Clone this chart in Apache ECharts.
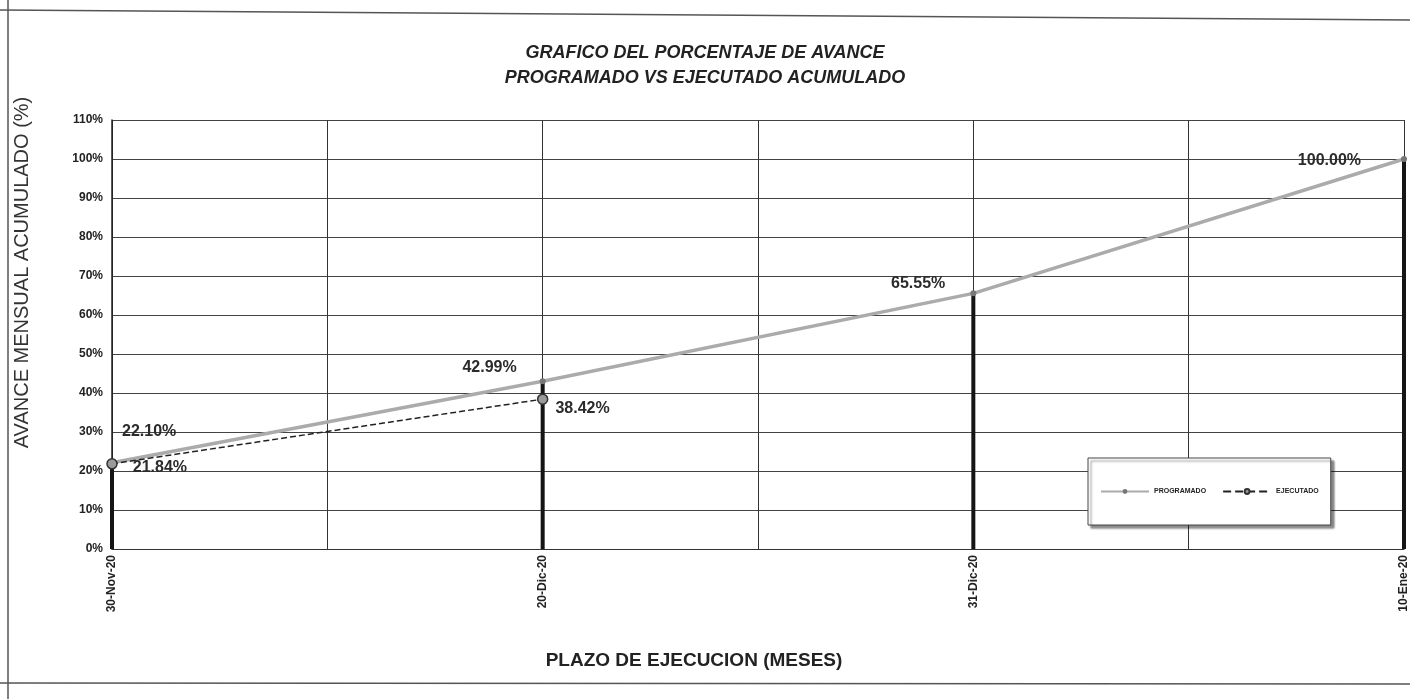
<!DOCTYPE html>
<html>
<head>
<meta charset="utf-8">
<script src="https://cdn.jsdelivr.net/npm/echarts@6/dist/echarts.min.js"></script>
<style>
  html, body { margin: 0; padding: 0; background: #fff; }
  #chart { width: 1410px; height: 699px; }
</style>
</head>
<body>
<div id="chart"></div>
<script>
var fechas = ['30-Nov-20', '20-Dic-20', '31-Dic-20', '10-Ene-20'];
var programado = [22.10, 42.99, 65.55, 100.00];
var ejecutado = [21.84, 38.42];
var yTicks = [0, 10, 20, 30, 40, 50, 60, 70, 80, 90, 100, 110];

var chart = echarts.init(document.getElementById('chart'));

// posiciones de etiquetas como en la hoja escaneada
var progLabels = [
    { position: 'right', offset: [2, -31] },
    { position: 'left', offset: [-18, -14] },
    { position: 'left', offset: [-20, -10] },
    { position: 'left', distance: 40, offset: [0, 2] }
];
var ejecLabels = [
    { position: 'right', offset: [10, 4] },
    { position: 'right', offset: [2, 9] }
];

function pares(vals, labels) {
    return vals.map(function (v, i) {
        return { value: [i, v], label: labels ? labels[i] : undefined };
    });
}

var lblStyle = {
    show: true,
    fontFamily: 'Liberation Sans',
    fontWeight: 'bold',
    fontSize: 16,
    color: '#2b2b2b',
    formatter: function (p) { return p.value[1].toFixed(2) + '%'; }
};

chart.setOption({
    backgroundColor: '#fff',
    animation: false,
    title: {
        text: 'GRAFICO DEL PORCENTAJE DE AVANCE\nPROGRAMADO VS EJECUTADO ACUMULADO',
        left: 'center',
        top: 36,
        textStyle: {
            fontFamily: 'Liberation Sans',
            fontSize: 18,
            fontWeight: 'bold',
            fontStyle: 'italic',
            color: '#222',
            lineHeight: 25
        }
    },
    legend: {
        left: 1088,
        top: 458,
        padding: [30, 12, 30, 12],
        backgroundColor: '#fff',
        borderColor: '#444',
        borderWidth: 1,
        shadowColor: 'rgba(0,0,0,0.45)',
        shadowBlur: 2,
        shadowOffsetX: 3,
        shadowOffsetY: 3,
        itemWidth: 48,
        itemHeight: 6,
        itemGap: 16,
        data: ['PROGRAMADO', 'EJECUTADO'],
        textStyle: { fontFamily: 'Liberation Sans', fontSize: 7, fontWeight: 'bold', color: '#222' }
    },
    grid: { left: 112, right: 3, top: 120, bottom: 150 },
    xAxis: {
        type: 'value',
        min: 0,
        max: fechas.length - 1,
        interval: 0.5,
        name: 'PLAZO DE EJECUCION (MESES)',
        nameLocation: 'middle',
        nameGap: 102,
        nameTextStyle: {
            fontFamily: 'Liberation Sans', fontSize: 19, fontWeight: 'bold', color: '#222',
            padding: [0, 128, 0, 0]
        },
        axisLine: { show: true, lineStyle: { color: '#333', width: 1 } },
        axisTick: { show: false },
        axisLabel: {
            rotate: 90,
            margin: 6,
            fontFamily: 'Liberation Sans',
            fontSize: 12,
            fontWeight: 'bold',
            color: '#222',
            showMaxLabel: true,
            formatter: function (v) {
                return Number.isInteger(v) ? fechas[v] : '';
            }
        },
        splitLine: { show: true, lineStyle: { color: '#333', width: 1 } }
    },
    yAxis: {
        type: 'value',
        min: yTicks[0],
        max: yTicks[yTicks.length - 1],
        interval: 10,
        name: 'AVANCE MENSUAL ACUMULADO (%)',
        nameLocation: 'middle',
        nameGap: 80,
        nameTextStyle: {
            fontFamily: 'Liberation Sans', fontSize: 20, color: '#333',
            padding: [0, 0, 0, 124]
        },
        axisLine: { show: true, lineStyle: { color: '#222', width: 1.5 } },
        axisTick: { show: false },
        axisLabel: {
            margin: 9,
            fontFamily: 'Liberation Sans',
            fontSize: 12,
            fontWeight: 'bold',
            color: '#222',
            formatter: '{value}%'
        },
        splitLine: { show: true, lineStyle: { color: '#444', width: 1 } }
    },
    series: [
        {
            name: 'caida',
            type: 'bar',
            barWidth: 4,
            itemStyle: { color: '#151515' },
            clip: false,
            data: programado.map(function (v, i) { return [i, v]; }),
            silent: true,
            z: 1
        },
        {
            name: 'PROGRAMADO',
            type: 'line',
            data: pares(programado, progLabels),
            symbol: 'circle',
            symbolSize: 6,
            lineStyle: { color: '#ababab', width: 3.5 },
            itemStyle: { color: '#777' },
            label: lblStyle,
            z: 3
        },
        {
            name: 'EJECUTADO',
            type: 'line',
            data: pares(ejecutado, ejecLabels),
            symbol: 'circle',
            symbolSize: 10,
            lineStyle: { color: '#222', width: 1.5, type: 'dashed' },
            itemStyle: { color: '#9a9a9a', borderColor: '#333', borderWidth: 1.5 },
            label: lblStyle,
            z: 4
        }
    ],
    graphic: [
        { type: 'line', shape: { x1: 0, y1: 10, x2: 1410, y2: 20 }, style: { stroke: '#555', lineWidth: 1.5 } },
        { type: 'line', shape: { x1: 8, y1: 0, x2: 8, y2: 699 }, style: { stroke: '#555', lineWidth: 1.5 } },
        { type: 'line', shape: { x1: 0, y1: 683, x2: 1410, y2: 684 }, style: { stroke: '#555', lineWidth: 1.5 } }
    ]
});
</script>
</body>
</html>
